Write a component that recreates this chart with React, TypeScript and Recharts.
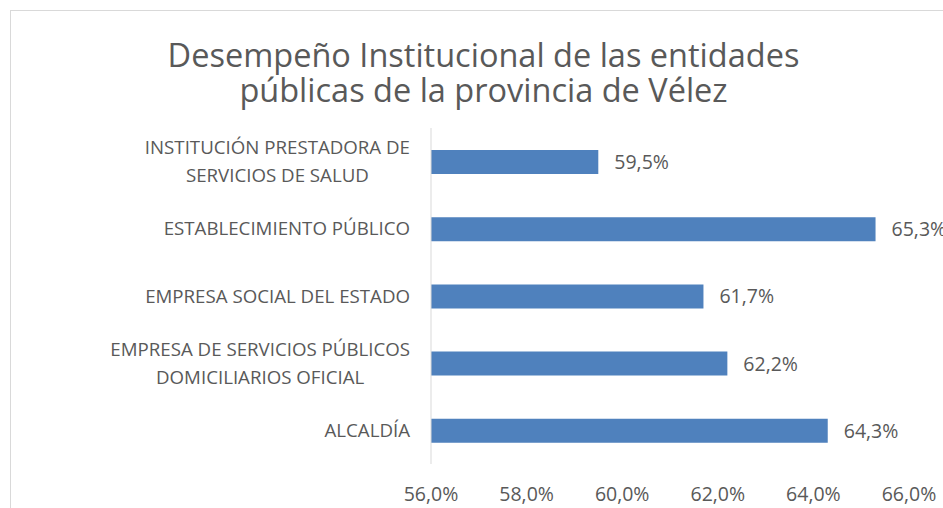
import React from "react";
import { BarChart, Bar, XAxis, YAxis, LabelList } from "recharts";

// categories top to bottom, "\n" where the original label wraps
const categories = [
  "INSTITUCIÓN PRESTADORA DE\nSERVICIOS DE SALUD",
  "ESTABLECIMIENTO PÚBLICO",
  "EMPRESA SOCIAL DEL ESTADO",
  "EMPRESA DE SERVICIOS PÚBLICOS\nDOMICILIARIOS OFICIAL",
  "ALCALDÍA",
];
const values = [59.5, 65.3, 61.7, 62.2, 64.3];
const xTicks = [56, 58, 60, 62, 64, 66];
const titleLines = [
  "Desempeño Institucional de las entidades",
  "públicas de la provincia de Vélez",
];

const FONT = "'Open Sans', sans-serif";
const TEXT = "#595959";
const CAT_SIZE = 18.7;
const NUM_SIZE = 19.5;

const fmt = (v: number) => v.toFixed(1).replace(".", ",") + "%";

let ctx: CanvasRenderingContext2D | null = null;
function textWidth(t: string, size: number) {
  if (!ctx) ctx = document.createElement("canvas").getContext("2d");
  if (!ctx) return t.length * size * 0.6;
  ctx.font = `${size}px 'Open Sans'`;
  return ctx.measureText(t).width;
}

const CategoryTick = ({ x, y, payload }: any) => {
  const lines: string[] = String(payload.value).split("\n");
  const lh = 28;
  const dy = CAT_SIZE * 0.357;
  if (lines.length === 1) {
    return (
      <text x={x} y={y + dy} textAnchor="end" fill={TEXT} fontSize={CAT_SIZE} fontFamily={FONT}>
        {lines[0]}
      </text>
    );
  }
  const w = Math.max(...lines.map((l) => textWidth(l, CAT_SIZE)));
  const cx = x - w / 2;
  const top = y - ((lines.length - 1) * lh) / 2;
  return (
    <g>
      {lines.map((l, i) => (
        <text
          key={i}
          x={cx}
          y={top + i * lh + dy}
          textAnchor="middle"
          fill={TEXT}
          fontSize={CAT_SIZE}
          fontFamily={FONT}
        >
          {l}
        </text>
      ))}
    </g>
  );
};

const ValueLabel = ({ x, y, width, height, value }: any) => (
  <text
    x={x + width + 16}
    y={y + height / 2 + NUM_SIZE * 0.357}
    fill={TEXT}
    fontSize={NUM_SIZE}
    fontFamily={FONT}
  >
    {fmt(value)}
  </text>
);

export default function App() {
  const data = categories.map((name, i) => ({ name, value: values[i] }));

  return (
    <div
      style={{
        position: "fixed",
        left: 0,
        top: 0,
        width: 943,
        height: 508,
        overflow: "hidden",
        background: "#fff",
      }}
    >
      {/* chart frame, cut off on the right and bottom like the original */}
      <div
        style={{
          position: "absolute",
          left: 10,
          top: 10,
          width: 980,
          height: 540,
          border: "1px solid #d9d9d9",
        }}
      />
      <svg width={943} height={130} style={{ position: "absolute", left: 0, top: 0 }}>
        {titleLines.map((t, i) => (
          <text
            key={i}
            x={483.5}
            y={67 + i * 35}
            textAnchor="middle"
            fill={TEXT}
            fontSize={32.5}
            fontFamily={FONT}
          >
            {t}
          </text>
        ))}
      </svg>
      <div style={{ position: "absolute", left: 0, top: 0 }}>
        <BarChart
          width={943}
          height={508}
          data={data}
          layout="vertical"
          margin={{ top: 128, right: 34, bottom: 14, left: 0 }}
        >
          <XAxis
            type="number"
            domain={[56, 66]}
            ticks={xTicks}
            tickFormatter={fmt}
            axisLine={false}
            tickLine={false}
            tickSize={0}
            tickMargin={23}
            height={30}
            tick={{ fill: TEXT, fontSize: NUM_SIZE, fontFamily: FONT }}
            allowDataOverflow
          />
          <YAxis
            type="category"
            dataKey="name"
            width={431}
            axisLine={{ stroke: "#d9d9d9", strokeWidth: 1 }}
            tickLine={false}
            tickSize={0}
            tickMargin={21}
            tick={<CategoryTick />}
            interval={0}
          />
          <Bar dataKey="value" fill="#4f81bd" barSize={24} isAnimationActive={false}>
            <LabelList dataKey="value" content={<ValueLabel />} />
          </Bar>
        </BarChart>
      </div>
    </div>
  );
}
